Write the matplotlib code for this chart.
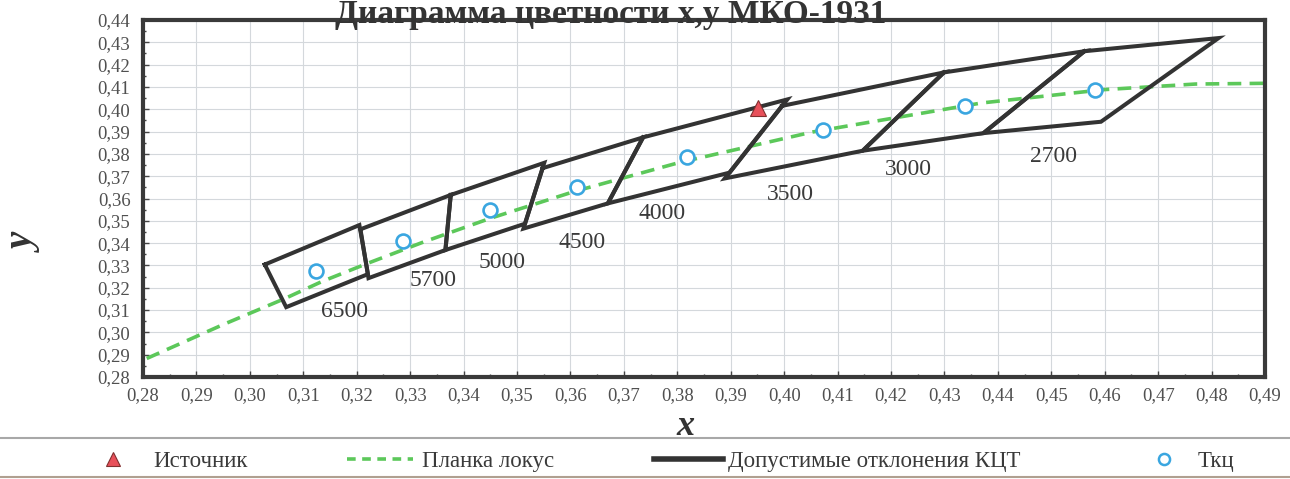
import matplotlib
matplotlib.use("Agg")
import matplotlib.pyplot as plt
from matplotlib.ticker import MultipleLocator, FuncFormatter
from matplotlib.lines import Line2D

# ---------------- data ----------------
cct_labels = ["6500", "5700", "5000", "4500", "4000", "3500", "3000", "2700"]

# quadrangle corners (x, y) for each CCT, order: upper-left, upper-right, lower-right, lower-left
quad_x = [
    [0.3028, 0.3205, 0.3221, 0.3068],
    [0.3207, 0.3376, 0.3366, 0.3222],
    [0.3376, 0.3551, 0.3515, 0.3366],
    [0.3548, 0.3736, 0.3670, 0.3512],
    [0.3736, 0.4006, 0.3898, 0.3670],
    [0.3996, 0.4299, 0.4147, 0.3889],
    [0.4299, 0.4562, 0.4373, 0.4147],
    [0.4562, 0.4813, 0.4593, 0.4373],
]
quad_y = [
    [0.3304, 0.3481, 0.3261, 0.3113],
    [0.3462, 0.3616, 0.3369, 0.3243],
    [0.3616, 0.3760, 0.3487, 0.3369],
    [0.3736, 0.3874, 0.3578, 0.3465],
    [0.3874, 0.4044, 0.3716, 0.3578],
    [0.4015, 0.4165, 0.3814, 0.3690],
    [0.4165, 0.4260, 0.3893, 0.3814],
    [0.4260, 0.4319, 0.3944, 0.3893],
]

# CCT label positions
label_x = [0.3178, 0.3343, 0.3472, 0.3622, 0.3772, 0.4012, 0.4233, 0.4504]
label_y = [0.3095, 0.3234, 0.3315, 0.3404, 0.3534, 0.3619, 0.3731, 0.3789]

# Tkc (nominal CCT chromaticity points)
tkc_x = [0.3124, 0.3287, 0.3450, 0.3613, 0.3819, 0.4073, 0.4339, 0.4581]
tkc_y = [0.3277, 0.3410, 0.3548, 0.3650, 0.3785, 0.3905, 0.4015, 0.4085]

# Planckian locus
locus_x = [0.2807, 0.2950, 0.3064, 0.3135, 0.3221, 0.3325, 0.3451, 0.3608,
           0.3805, 0.4053, 0.4369, 0.4599, 0.4770, 0.4970]
locus_y = [0.2883, 0.3035, 0.3150, 0.3228, 0.3310, 0.3405, 0.3512, 0.3632,
           0.3762, 0.3898, 0.4028, 0.4088, 0.4113, 0.4118]

# source point
src_x = [0.3952]
src_y = [0.4004]

title = "Диаграмма цветности x,y МКО-1931"
legend_labels = ["Источник", "Планка локус", "Допустимые отклонения КЦТ", "Ткц"]

# ---------------- style ----------------
serif = ["Liberation Serif", "DejaVu Serif"]
plt.rcParams["font.family"] = serif
text_col = "#3a3a3a"
tick_col = "#505050"
quad_col = "#333333"
green = "#5cc85a"
blue = "#3aa6e0"
red = "#e8505a"

fig = plt.figure(figsize=(12.9, 4.79), dpi=100)
ax = fig.add_axes([143 / 1290, 1 - 377 / 479, (1265 - 143) / 1290, (377 - 20) / 479])

ax.set_xlim(0.28, 0.49)
ax.set_ylim(0.28, 0.44)
ax.xaxis.set_major_locator(MultipleLocator(0.01))
ax.yaxis.set_major_locator(MultipleLocator(0.01))
ax.xaxis.set_minor_locator(MultipleLocator(0.005))
ax.yaxis.set_minor_locator(MultipleLocator(0.005))
fmt = FuncFormatter(lambda v, p: f"{v:.2f}".replace(".", ","))
ax.xaxis.set_major_formatter(fmt)
ax.yaxis.set_major_formatter(fmt)
ax.grid(True, which="major", color="#d4d8dc", lw=0.8)
ax.set_axisbelow(True)
ax.tick_params(which="major", direction="in", length=4, width=1, color="#444444",
               labelsize=13.5, labelcolor=tick_col, pad=9)
ax.tick_params(axis="x", which="major", pad=7)
ax.tick_params(which="minor", direction="in", length=2.5, width=1, color="#444444")
for s in ax.spines.values():
    s.set_linewidth(3)
    s.set_color("#3a3a3a")

# Planck locus
ax.plot(locus_x, locus_y, color=green, lw=2.6, dashes=(3.8, 2.3), zorder=2)

# quadrangles
for qx, qy in zip(quad_x, quad_y):
    ax.plot(qx + [qx[0]], qy + [qy[0]], color=quad_col, lw=2.9,
            solid_joinstyle="miter", zorder=3)

# Tkc markers
ax.plot(tkc_x, tkc_y, linestyle="none", marker="o", markersize=10,
        markerfacecolor="white", markeredgecolor=blue, markeredgewidth=1.9, zorder=4)

# source
ax.plot(src_x, src_y, linestyle="none", marker="^", markersize=11,
        markerfacecolor=red, markeredgecolor="#803030", markeredgewidth=0.8, zorder=5)

# CCT labels
for lx, ly, t in zip(label_x, label_y, cct_labels):
    ax.text(lx, ly, t, ha="center", va="center", fontsize=17, color=text_col)

# title and axis labels
fig.text(611 / 1290, 1 - 23 / 479, title, ha="center", va="baseline",
         fontsize=24, fontweight="bold", color="#333333")
fig.text(686 / 1290, 1 - 435 / 479, "x", ha="center", va="baseline", fontsize=26,
         fontweight="bold", fontstyle="italic", color="#333333")
fig.text(25 / 1290, 1 - 243 / 479, "y", ha="center", va="center", fontsize=28,
         fontweight="bold", fontstyle="italic", color="#333333", rotation=90)

# separators
fig.add_artist(Line2D([0, 1], [1 - 438 / 479] * 2, transform=fig.transFigure,
                      color="#a8a8a8", lw=1.5))
fig.add_artist(Line2D([0, 1], [1 - 477 / 479] * 2, transform=fig.transFigure,
                      color="#b0a090", lw=1.5))

# legend entries
h_src = Line2D([], [], linestyle="none", marker="^", markersize=10,
               markerfacecolor=red, markeredgecolor="#803030", markeredgewidth=0.8)
h_loc = Line2D([], [], color=green, lw=2.6, dashes=(2.4, 1.8))
h_quad = Line2D([], [], color=quad_col, lw=4)
h_tkc = Line2D([], [], linestyle="none", marker="o", markersize=8,
               markerfacecolor="white", markeredgecolor=blue, markeredgewidth=1.8)

leg_fs = 16.5
em = leg_fs * 100 / 72
entries = [
    (h_src, legend_labels[0], 113 - em / 2, 1.0, (153 - 113 - em / 2) / em),
    (h_loc, legend_labels[1], 347, 66 / em, 9 / em),
    (h_quad, legend_labels[2], 654, 69 / em, 5 / em),
    (h_tkc, legend_labels[3], 1164 - em / 2, 1.0, (1198 - 1164 - em / 2) / em),
]
for h, lab, x0, hl, hp in entries:
    fig.legend([h], [lab], loc="center left", bbox_to_anchor=(x0 / 1290, 1 - 461 / 479),
               frameon=False, fontsize=leg_fs, handlelength=hl, handletextpad=hp,
               borderpad=0, borderaxespad=0, labelcolor=text_col)

fig.savefig("out.png", dpi=100)
